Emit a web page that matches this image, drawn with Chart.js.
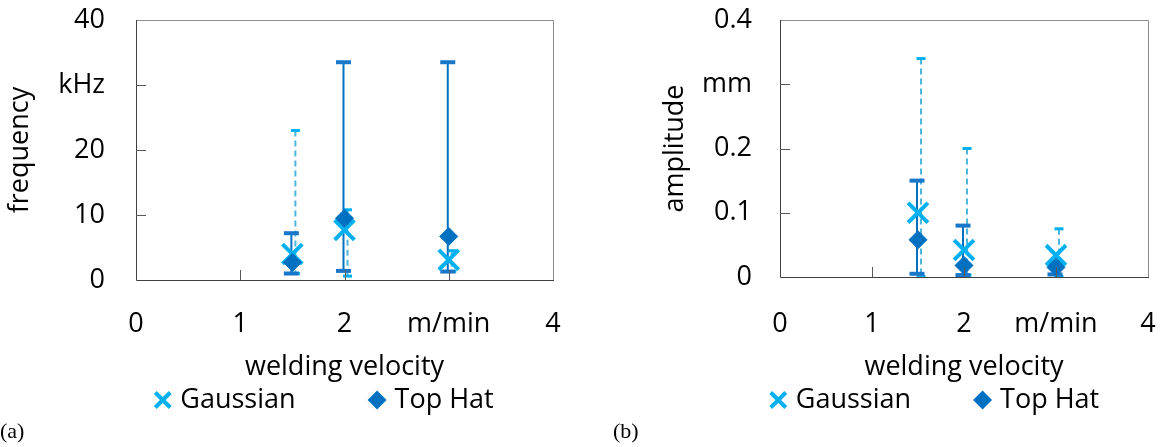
<!DOCTYPE html>
<html>
<head>
<meta charset="utf-8">
<script src="https://cdn.jsdelivr.net/npm/chart.js@4/dist/chart.umd.min.js"></script>
<style>
  html, body { margin: 0; padding: 0; background: #fff; }
  #wrap { position: relative; width: 1166px; height: 447px; overflow: hidden; }
  canvas { position: absolute; top: 0; }
  #chartA { left: 0; }
  #chartB { left: 583px; }
  .tag { position: absolute; top: 418px; font-family: 'Liberation Serif', serif; font-size: 22px; color: #000; }
</style>
</head>
<body>
<div id="wrap">
  <canvas id="chartA" width="583" height="447"></canvas>
  <canvas id="chartB" width="583" height="447"></canvas>
  <div class="tag" style="left:0">(a)</div>
  <div class="tag" style="left:613px">(b)</div>
</div>
<script>
// welding velocity in m/min
const velocity = [1.5, 2, 3];
const seriesNames = ['Gaussian', 'Top Hat'];
const xTickLabels = ['0', '1', '2', 'm/min', '4'];

// (a) oscillation frequency, kHz
const freqTickLabels = ['0', '10', '20', 'kHz', '40'];
const freqGauss = [4.0, 7.7, 3.1];
const freqGaussLow = [1.0, 0.6, 1.3];
const freqGaussHigh = [23.0, 10.8, 4.5];
const freqTopHat = [2.7, 9.5, 6.7];
const freqTopHatLow = [1.0, 1.4, 1.3];
const freqTopHatHigh = [7.2, 33.5, 33.5];

// (b) oscillation amplitude, mm
const ampTickLabels = ['0', '0.1', '0.2', 'mm', '0.4'];
const ampGauss = [0.100, 0.042, 0.034];
const ampGaussLow = [0.001, 0.003, 0.001];
const ampGaussHigh = [0.340, 0.200, 0.075];
const ampTopHat = [0.058, 0.018, 0.015];
const ampTopHatLow = [0.005, 0.003, 0.004];
const ampTopHatHigh = [0.150, 0.080, 0.022];

const GAUSS_COLOR = '#00B0F0';
const TOPHAT_COLOR = '#0070C0';
const FONT = "'Open Sans', sans-serif";
const FONT_SIZE = 27;

Chart.defaults.font.family = FONT;
Chart.defaults.font.size = FONT_SIZE;
Chart.defaults.color = '#000';

function drawMarker(ctx, style, x, y, r, color) {
    ctx.save();
    if (style === 'crossRot') {
        ctx.strokeStyle = color;
        ctx.lineWidth = 4;
        ctx.beginPath();
        ctx.moveTo(x - r, y - r);
        ctx.lineTo(x + r, y + r);
        ctx.moveTo(x - r, y + r);
        ctx.lineTo(x + r, y - r);
        ctx.stroke();
    } else {
        ctx.fillStyle = color;
        ctx.beginPath();
        ctx.moveTo(x - r, y);
        ctx.lineTo(x, y - r);
        ctx.lineTo(x + r, y);
        ctx.lineTo(x, y + r);
        ctx.closePath();
        ctx.fill();
    }
    ctx.restore();
}

// error bars (min..max) behind the markers
const errorBars = {
    id: 'errorBars',
    beforeDatasetsDraw(chart, args, opts) {
        const ctx = chart.ctx;
        const xs = chart.scales.x;
        const ys = chart.scales.y;
        opts.bars.forEach(bar => {
            ctx.save();
            velocity.forEach((v, i) => {
                const px = xs.getPixelForValue(v) + bar.offset;
                const top = ys.getPixelForValue(bar.high[i]);
                const bottom = ys.getPixelForValue(bar.low[i]);
                ctx.strokeStyle = bar.lineColor;
                ctx.lineWidth = bar.lineWidth;
                ctx.setLineDash(bar.dash);
                ctx.beginPath();
                ctx.moveTo(px, top);
                ctx.lineTo(px, bottom);
                ctx.stroke();
                ctx.setLineDash([]);
                ctx.fillStyle = bar.capColor;
                ctx.fillRect(px - bar.capWidth / 2, top - bar.capHeight / 2, bar.capWidth, bar.capHeight);
                ctx.fillRect(px - bar.capWidth / 2, bottom - bar.capHeight / 2, bar.capWidth, bar.capHeight);
            });
            ctx.restore();
        });
    }
};

// plot box with short inward tick marks
const frame = {
    id: 'frame',
    afterDatasetsDraw(chart) {
        const ctx = chart.ctx;
        const a = chart.chartArea;
        ctx.save();
        ctx.lineWidth = 1;
        ctx.strokeStyle = '#8c8c8c';
        ctx.beginPath();
        ctx.moveTo(a.left, a.top + 0.5);
        ctx.lineTo(a.right + 0.5, a.top + 0.5);
        ctx.lineTo(a.right + 0.5, a.bottom);
        ctx.stroke();
        ctx.strokeStyle = '#404040';
        ctx.beginPath();
        ctx.moveTo(a.left + 0.5, a.top);
        ctx.lineTo(a.left + 0.5, a.bottom + 0.5);
        ctx.lineTo(a.right + 1, a.bottom + 0.5);
        ctx.stroke();
        ctx.strokeStyle = '#595959';
        const ys = chart.scales.y;
        ys.ticks.forEach((t, i) => {
            if (i === 0 || i === ys.ticks.length - 1) return;
            const py = Math.round(ys.getPixelForValue(t.value)) + 0.5;
            ctx.beginPath();
            ctx.moveTo(a.left, py);
            ctx.lineTo(a.left + 10, py);
            ctx.stroke();
        });
        const xs = chart.scales.x;
        xs.ticks.forEach((t, i) => {
            if (i === 0 || i === xs.ticks.length - 1) return;
            const px = Math.round(xs.getPixelForValue(t.value)) + 0.5;
            ctx.beginPath();
            ctx.moveTo(px, a.bottom);
            ctx.lineTo(px, a.bottom - 10);
            ctx.stroke();
        });
        ctx.restore();
    }
};

// legend drawn under the axis title
const markerLegend = {
    id: 'markerLegend',
    afterDraw(chart, args, opts) {
        const ctx = chart.ctx;
        const a = chart.chartArea;
        ctx.save();
        ctx.font = FONT_SIZE + 'px ' + FONT;
        const items = chart.data.datasets.map(ds => ({
            ds: ds,
            w: opts.markerSize + opts.textGap + ctx.measureText(ds.label).width
        }));
        const total = items.reduce((s, it) => s + it.w, 0) + opts.itemGap * (items.length - 1);
        let x = (a.left + a.right) / 2 + opts.shift - total / 2;
        const y = a.bottom + opts.offsetY;
        items.forEach(it => {
            const r = opts.markerSize / 2;
            drawMarker(ctx, it.ds.pointStyle, x + r, y, it.ds.pointStyle === 'crossRot' ? r - 2 : r, it.ds.borderColor);
            ctx.fillStyle = '#000';
            ctx.textAlign = 'left';
            ctx.textBaseline = 'middle';
            ctx.fillText(it.ds.label, x + opts.markerSize + opts.textGap, y);
            x += it.w + opts.itemGap;
        });
        ctx.restore();
    }
};

function points(values) {
    return velocity.map((v, i) => ({ x: v, y: values[i] }));
}

function makeChart(canvasId, c) {
    const ctx = document.getElementById(canvasId).getContext('2d');
    return new Chart(ctx, {
        type: 'scatter',
        data: {
            datasets: [{
                label: seriesNames[0],
                data: points(c.gauss),
                pointStyle: 'crossRot',
                pointRadius: 14,
                borderWidth: 4,
                borderColor: GAUSS_COLOR,
                backgroundColor: GAUSS_COLOR,
                order: 1
            }, {
                label: seriesNames[1],
                data: points(c.topHat),
                pointStyle: 'rectRot',
                pointRadius: 9,
                borderWidth: 1,
                borderColor: TOPHAT_COLOR,
                backgroundColor: TOPHAT_COLOR,
                order: 0
            }]
        },
        options: {
            responsive: false,
            animation: false,
            layout: { padding: c.padding },
            plugins: {
                legend: { display: false },
                tooltip: { enabled: false },
                errorBars: {
                    bars: [{
                        low: c.gaussLow, high: c.gaussHigh, offset: 3,
                        lineColor: '#4DB6DC', lineWidth: 2, dash: [6, 4],
                        capColor: GAUSS_COLOR, capWidth: 9, capHeight: 3
                    }, {
                        low: c.topHatLow, high: c.topHatHigh, offset: -1,
                        lineColor: TOPHAT_COLOR, lineWidth: 2, dash: [],
                        capColor: '#1877C9', capWidth: 15, capHeight: 4
                    }]
                },
                markerLegend: c.legend
            },
            scales: {
                x: {
                    type: 'linear',
                    min: 0,
                    max: 4,
                    // tick marks are drawn inside by the frame plugin; tickLength only spaces the labels
                    grid: { display: false, drawTicks: true, tickLength: c.xTickGap },
                    border: { display: false },
                    ticks: {
                        stepSize: 1,
                        padding: 0,
                        maxRotation: 0,
                        callback: (v, i) => xTickLabels[i]
                    },
                    title: { display: true, text: 'welding velocity', padding: 0 },
                    afterFit: scale => { scale.height = c.xAxisHeight; }
                },
                y: {
                    min: 0,
                    max: c.yMax,
                    grid: { display: false, drawTicks: true, tickLength: c.yTickGap },
                    border: { display: false },
                    ticks: {
                        stepSize: c.yStep,
                        padding: 0,
                        callback: (v, i) => c.yLabels[i]
                    },
                    title: { display: true, text: c.yTitle, padding: { top: c.yTitlePad, bottom: 0 } },
                    afterFit: scale => { scale.width = c.yAxisWidth; }
                }
            }
        },
        plugins: [errorBars, frame, markerLegend]
    });
}

makeChart('chartA', {
    gauss: freqGauss, gaussLow: freqGaussLow, gaussHigh: freqGaussHigh,
    topHat: freqTopHat, topHatLow: freqTopHatLow, topHatHigh: freqTopHatHigh,
    yMax: 40, yStep: 10, yLabels: freqTickLabels, yTitle: 'frequency',
    yAxisWidth: 136, yTickGap: 31, yTitlePad: 4,
    xAxisHeight: 104, xTickGap: 28,
    padding: { left: 0, right: 30, top: 20, bottom: 63 },
    legend: { markerSize: 19, textGap: 8, itemGap: 72, shift: -21, offsetY: 120 }
});

makeChart('chartB', {
    gauss: ampGauss, gaussLow: ampGaussLow, gaussHigh: ampGaussHigh,
    topHat: ampTopHat, topHatLow: ampTopHatLow, topHatHigh: ampTopHatHigh,
    yMax: 0.4, yStep: 0.1, yLabels: ampTickLabels, yTitle: 'amplitude',
    yAxisWidth: 197, yTickGap: 28, yTitlePad: 76,
    xAxisHeight: 107, xTickGap: 31,
    padding: { left: 0, right: 18, top: 20, bottom: 63 },
    legend: { markerSize: 19, textGap: 8, itemGap: 62, shift: -30, offsetY: 123 }
});
</script>
</body>
</html>
